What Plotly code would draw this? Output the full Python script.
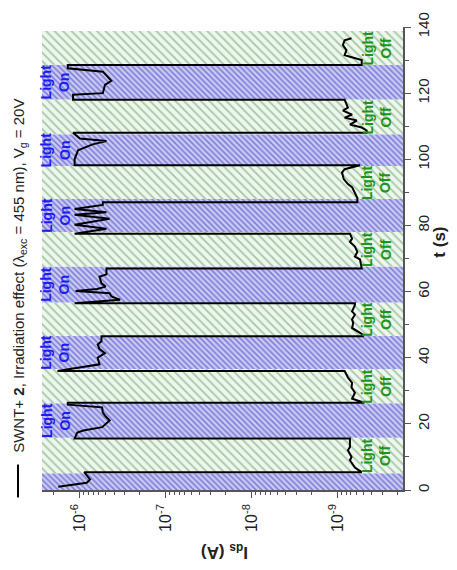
import math
import plotly.graph_objects as go

# ---- data ----
t_s = [
    1.0, 2.2, 3.2, 4.0, 5.4,
    5.4, 6.8, 9.0, 10.0, 12.0, 13.0, 15.6,
    15.6, 17.4, 18.0, 19.0, 21.0, 22.5, 23.4, 25.0, 25.8, 26.4,
    26.4, 27.6, 29.4, 31.0, 32.4, 34.0, 35.1, 36.0,
    36.0, 38.0, 40.0, 41.4, 42.6, 44.0, 45.0, 46.5,
    46.5, 47.0, 49.0, 50.5, 51.6, 53.0, 54.0, 55.9, 56.5,
    56.5, 57.5, 58.5, 59.5, 60.2, 60.8, 61.5, 62.5, 64.5, 65.2, 67.0,
    67.0, 69.7, 70.6, 72.0, 73.6, 75.0, 76.0, 77.5,
    77.5, 79.0, 80.2, 82.0, 83.2, 84.0, 85.0, 86.2, 87.0,
    87.0, 88.3, 90.0, 91.6, 92.5, 94.0, 96.0, 97.0, 98.2,
    98.2, 100.0, 102.7, 104.5, 105.5, 106.3, 108.0,
    108.0, 108.7, 109.6, 110.5, 111.7, 112.6, 113.5, 114.7, 115.6, 118.0,
    118.0, 119.5, 120.0, 122.5, 123.7, 125.5, 126.5, 127.5, 128.5,
    128.5, 130.0, 131.0, 131.5, 133.0, 134.5, 136.0, 136.6,
]
ids_a = [
    1.78e-6, 8.3e-7, 7.6e-7, 8.1e-7, 8.9e-7,
    5.25e-10, 6.3e-10, 7.2e-10, 6.9e-10, 7.6e-10, 7.2e-10, 7.2e-10,
    1.15e-6, 1.07e-6, 9.1e-7, 5.5e-7, 4.5e-7, 5.1e-7, 5.4e-7, 5.5e-7, 1.38e-6, 1.38e-6,
    4.9e-10, 6.8e-10, 6.3e-10, 6.9e-10, 6.8e-10, 7.6e-10, 7.9e-10, 8.3e-10,
    1.82e-6, 5.9e-7, 6.2e-7, 5.1e-7, 5.9e-7, 6.2e-7, 5.6e-7, 5.6e-7,
    5.1e-10, 5.1e-10, 6.8e-10, 6.6e-10, 6.8e-10, 6.3e-10, 6.8e-10, 6.3e-10, 6.3e-10,
    1.15e-6, 3.4e-7, 4.3e-7, 4.5e-7, 1.12e-6, 6.3e-7, 5.0e-7, 5.6e-7, 5.9e-7, 4.9e-7, 4.9e-7,
    5.25e-10, 5.5e-10, 6.3e-10, 5.9e-10, 6.3e-10, 7.2e-10, 6.8e-10, 7.2e-10,
    1.15e-6, 4.9e-7, 1.15e-6, 4.5e-7, 1.15e-6, 4.9e-7, 1.15e-6, 5.4e-7, 5.4e-7,
    5.9e-10, 5.9e-10, 6.3e-10, 6.8e-10, 7.6e-10, 8.5e-10, 8.9e-10, 8.3e-10, 5.5e-10,
    1.15e-6, 1.15e-6, 1.05e-6, 7.1e-7, 4.9e-7, 1.0e-6, 1.2e-6,
    4.6e-10, 4.6e-10, 5.25e-10, 7.2e-10, 6.0e-10, 8.3e-10, 6.8e-10, 8.7e-10, 7.6e-10, 8.3e-10,
    1.2e-6, 1.2e-6, 5.4e-7, 5.1e-7, 4.3e-7, 5.0e-7, 5.4e-7, 1.38e-6, 1.38e-6,
    5.25e-10, 5.25e-10, 7.2e-10, 8.3e-10, 7.9e-10, 8.7e-10, 8.3e-10, 6.9e-10,
]
assert len(t_s) == len(ids_a)

# band edges (s); bands alternate starting with "Light On"
band_edges_s = [0, 5.1, 15.8, 26.2, 36.6, 46.6, 56.7, 67.6, 78.0, 88.0, 98.0, 107.6, 118.1, 128.6, 138.8]

t_ticks = [0, 20, 40, 60, 80, 100, 120, 140]
i_ticks = [1e-6, 1e-7, 1e-8, 1e-9]
i_tick_text = ["10<sup>-6</sup>", "10<sup>-7</sup>", "10<sup>-8</sup>", "10<sup>-9</sup>"]

legend_text = "SWNT+ <b>2</b>, Irradiation effect (λ<sub>exc</sub> = 455 nm), V<sub>g</sub> = 20V"

# ---- styling ----
X_LOG_RANGE = [-5.56, -9.76]
X_FAR_HI, X_FAR_LO = 1e-5, 1e-10
ON_FG, ON_BG = "#3232c0", "#cacaf3"
OFF_FG, OFF_BG = "#5a9a5a", "#eef6ee"
ON_TXT, OFF_TXT = "#1c1cf0", "#1c951c"
FONT = "Liberation Sans, Arial, sans-serif"
AXCOL = "#555555"

fig = go.Figure()

for i in range(len(band_edges_s) - 1):
    lo, hi = band_edges_s[i], band_edges_s[i + 1]
    on = (i % 2 == 0)
    fig.add_trace(go.Scatter(
        x=[X_FAR_HI, X_FAR_LO, X_FAR_LO, X_FAR_HI, X_FAR_HI],
        y=[lo, lo, hi, hi, lo],
        mode="none", fill="toself",
        fillcolor=ON_BG if on else OFF_BG,
        fillpattern=dict(shape="\\",
                         fgcolor=ON_FG if on else OFF_FG,
                         bgcolor=ON_BG if on else OFF_BG,
                         size=4 if on else 6,
                         solidity=0.4 if on else 0.3),
        hoverinfo="skip", showlegend=False,
    ))

fig.add_trace(go.Scatter(x=ids_a, y=t_s, mode="lines",
                         line=dict(color="black", width=2), showlegend=False))

annotations = []
for i in range(len(band_edges_s) - 1):
    lo, hi = band_edges_s[i], band_edges_s[i + 1]
    mid = (lo + hi) / 2
    on = (i % 2 == 0)
    if on and i == 0:
        continue
    annotations.append(dict(
        x=0.037 if on else 0.927, xref="paper", y=mid, yref="y",
        text="Light<br>On" if on else "Light<br>Off",
        textangle=-90, showarrow=False,
        font=dict(family=FONT, size=14, color=ON_TXT if on else OFF_TXT, weight="bold"),
        xanchor="center", yanchor="middle",
    ))

annotations.append(dict(
    x=-0.061, xref="paper", y=0.076, yref="paper", text=legend_text,
    textangle=-90, showarrow=False, xanchor="center", yanchor="bottom",
    font=dict(family=FONT, size=15, color="#222222"),
))
annotations.append(dict(
    x=1.102, xref="paper", y=0.536, yref="paper", text="<b>t (s)</b>",
    textangle=-90, showarrow=False, xanchor="center", yanchor="middle",
    font=dict(family=FONT, size=17, color="#222222"),
))
annotations.append(dict(
    x=0.504, xref="paper", y=-0.133, yref="paper", text="<b>I<sub>ds</sub> (A)</b>",
    textangle=180, showarrow=False, xanchor="center", yanchor="middle",
    font=dict(family=FONT, size=17, color="#222222"),
))

fig.add_shape(type="line", xref="paper", yref="paper",
              x0=-0.0665, x1=-0.0665, y0=-0.016, y1=0.055,
              line=dict(color="black", width=2))

minor_x = [k * 10 ** e for e in range(-10, -5) for k in range(2, 10)]

fig.update_layout(
    width=457, height=570,
    margin=dict(l=42, r=54, t=23, b=80),
    paper_bgcolor="white", plot_bgcolor="white",
    font=dict(family=FONT, color="#222222"),
    annotations=annotations,
    xaxis=dict(type="log", range=X_LOG_RANGE, showgrid=False, zeroline=False,
               showline=True, linecolor=AXCOL, linewidth=1.5,
               ticks="outside", ticklen=6, tickcolor=AXCOL, tickwidth=1.2,
               tickvals=i_ticks, ticktext=i_tick_text, tickangle=-90,
               tickfont=dict(size=16, family=FONT, color="#222222"),
               minor=dict(tickvals=minor_x, ticks="outside", ticklen=3,
                          tickcolor=AXCOL, showgrid=False)),
    yaxis=dict(range=[0, 140], side="right", showgrid=False, zeroline=False,
               showline=True, linecolor=AXCOL, linewidth=1.5,
               ticks="outside", ticklen=6, tickcolor=AXCOL, tickwidth=1.2,
               tickvals=t_ticks, tickangle=-90,
               tickfont=dict(size=15, family=FONT, color="#222222"),
               minor=dict(dtick=10, ticks="outside", ticklen=4,
                          tickcolor=AXCOL, showgrid=False)),
)

fig.write_html("out.html")
